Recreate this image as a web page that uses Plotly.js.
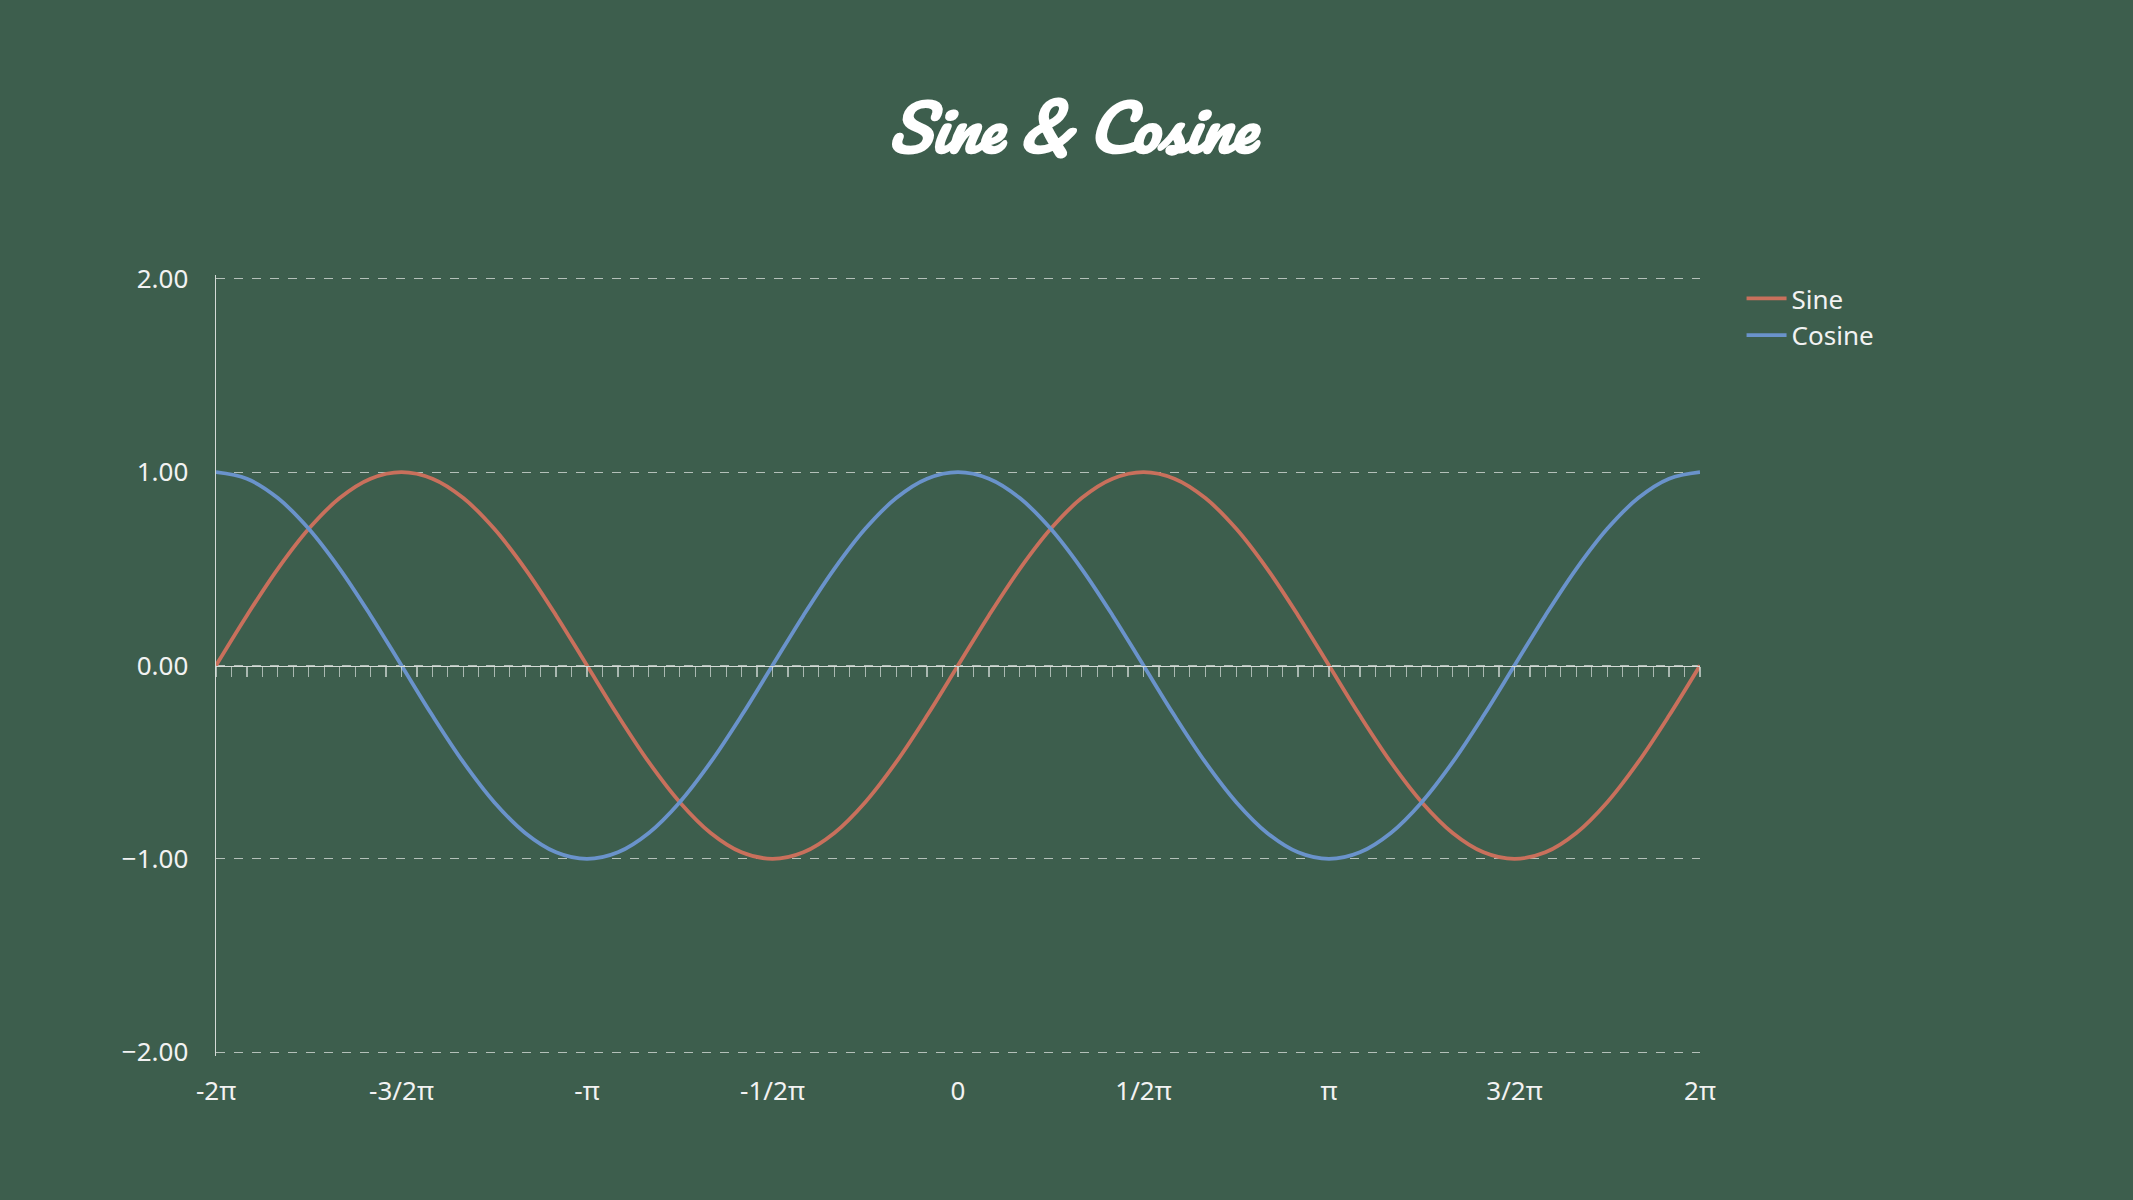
<!DOCTYPE html>
<html>
<head>
<meta charset="utf-8">
<script src="https://cdn.plot.ly/plotly-3.0.1.min.js"></script>
<style>
  html, body { margin: 0; padding: 0; background: #3d5e4d; }
  #chart { width: 2133px; height: 1200px; }
</style>
</head>
<body>
<div id="chart"></div>
<script>
// angle in degrees, every 15 degrees from -2pi to 2pi
var angles = [-360, -345, -330, -315, -300, -285, -270, -255, -240, -225, -210, -195,
              -180, -165, -150, -135, -120, -105, -90, -75, -60, -45, -30, -15,
              0, 15, 30, 45, 60, 75, 90, 105, 120, 135, 150, 165,
              180, 195, 210, 225, 240, 255, 270, 285, 300, 315, 330, 345, 360];

var sineValues = [0, 0.259, 0.5, 0.707, 0.866, 0.966, 1, 0.966, 0.866, 0.707, 0.5, 0.259,
                  0, -0.259, -0.5, -0.707, -0.866, -0.966, -1, -0.966, -0.866, -0.707, -0.5, -0.259,
                  0, 0.259, 0.5, 0.707, 0.866, 0.966, 1, 0.966, 0.866, 0.707, 0.5, 0.259,
                  0, -0.259, -0.5, -0.707, -0.866, -0.966, -1, -0.966, -0.866, -0.707, -0.5, -0.259, 0];

var cosineValues = [1, 0.966, 0.866, 0.707, 0.5, 0.259, 0, -0.259, -0.5, -0.707, -0.866, -0.966,
                    -1, -0.966, -0.866, -0.707, -0.5, -0.259, 0, 0.259, 0.5, 0.707, 0.866, 0.966,
                    1, 0.966, 0.866, 0.707, 0.5, 0.259, 0, -0.259, -0.5, -0.707, -0.866, -0.966,
                    -1, -0.966, -0.866, -0.707, -0.5, -0.259, 0, 0.259, 0.5, 0.707, 0.866, 0.966, 1];

var tickPositions = [-360, -270, -180, -90, 0, 90, 180, 270, 360];
var tickLabels = ['-2π', '-3/2π', '-π', '-1/2π', '0', '1/2π', 'π', '3/2π', '2π'];

var bg = '#3d5e4d';
var textColor = '#f2f2f2';
var gridColor = 'rgba(220,225,222,0.75)';
var axisColor = '#d4dad6';

var traces = [{
    x: angles,
    y: sineValues,
    mode: 'lines',
    name: 'Sine',
    line: {color: '#c9705c', width: 3.8, shape: 'spline', smoothing: 1}
}, {
    x: angles,
    y: cosineValues,
    mode: 'lines',
    name: 'Cosine',
    line: {color: '#6a93cb', width: 3.8, shape: 'spline', smoothing: 1}
}, {
    // empty trace so the axis through zero is drawn
    x: [],
    y: [],
    xaxis: 'x2',
    showlegend: false,
    hoverinfo: 'skip'
}];

var layout = {
    width: 2133,
    height: 1200,
    paper_bgcolor: bg,
    plot_bgcolor: bg,
    margin: {l: 216, r: 433, t: 275, b: 144},
    font: {family: '"Noto Sans", "Open Sans", sans-serif', color: textColor, size: 26},
    title: {
        text: 'Sine & Cosine',
        x: 0.5026,
        xanchor: 'center',
        y: 0.891,
        yanchor: 'middle',
        font: {family: 'Pacifico, "Lato", cursive', size: 62, color: '#ffffff',
               style: 'italic', weight: 'bold'}
    },
    xaxis: {
        range: [-360, 360],
        tickvals: tickPositions,
        ticktext: tickLabels,
        showgrid: false,
        zeroline: false,
        showline: false,
        ticks: 'outside',
        ticklen: 12,
        tickcolor: 'rgba(0,0,0,0)',
        tickfont: {size: 26, color: textColor},
        fixedrange: true
    },
    xaxis2: {
        overlaying: 'x',
        matches: 'x',
        anchor: 'free',
        position: 0.5,
        side: 'bottom',
        range: [-360, 360],
        tick0: -360,
        dtick: 7.5,
        ticks: 'outside',
        ticklen: 10,
        tickwidth: 1.2,
        tickcolor: 'rgba(215,222,218,0.7)',
        showticklabels: false,
        showgrid: false,
        zeroline: false,
        showline: true,
        linecolor: axisColor,
        linewidth: 1.5
    },
    yaxis: {
        range: [-2.02, 2.02],
        tickvals: [-2, -1, 0, 1, 2],
        tickformat: '.2f',
        showgrid: true,
        gridcolor: gridColor,
        griddash: 'dash',
        gridwidth: 1,
        zeroline: false,
        showline: true,
        linecolor: axisColor,
        linewidth: 1.5,
        ticks: 'outside',
        ticklen: 12,
        tickcolor: 'rgba(0,0,0,0)',
        ticklabelstandoff: 9,
        tickfont: {size: 26, color: textColor},
        fixedrange: true
    },
    legend: {
        x: 1.028,
        xanchor: 'left',
        y: 1.0,
        yanchor: 'top',
        bgcolor: 'rgba(0,0,0,0)',
        font: {size: 26, color: textColor},
        itemwidth: 40,
        tracegroupgap: 0
    },
    showlegend: true
};

Plotly.newPlot('chart', traces, layout, {displayModeBar: false, staticPlot: true});
</script>
</body>
</html>
